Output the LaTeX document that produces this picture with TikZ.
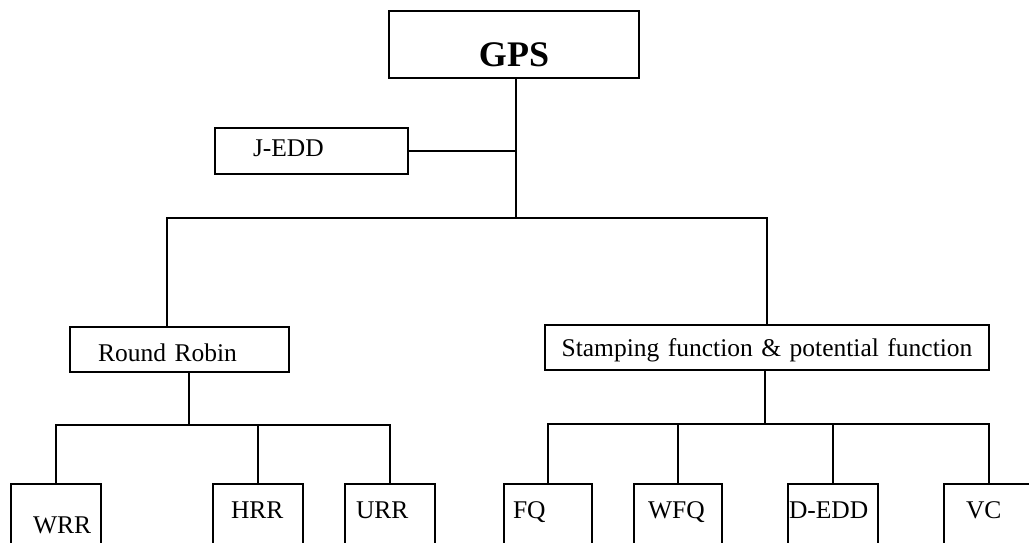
\documentclass[tikz,border=0pt]{standalone}
\usepackage{fontspec}
\setmainfont{Liberation Serif}
\begin{document}
\begin{tikzpicture}[x=1pt,y=-1pt,
  lw/.style={line width=2pt},
  box/.style={draw, lw, anchor=north west, inner ysep=0pt, align=left,
    font=\fontsize{25.5}{30}\selectfont},
  leaf/.style={box, text height=34pt, text depth=63pt},
  link/.style={lw, line cap=rect}]
\path[use as bounding box, fill=white] (0,0) rectangle (1029,542);
\clip (0,0) rectangle (1029,542);

% nodes
\node[box, align=center, inner xsep=0pt, text width=250pt, text height=55pt, text depth=12pt,
  font=\fontsize{36}{40}\selectfont\bfseries] (gps) at (388,10) {GPS};
\node[box, inner xsep=38pt, text width=117pt, text height=28.5pt, text depth=17.5pt] (jedd) at (214,127) {\mbox{J-EDD}};
\node[box, inner xsep=28pt, text width=163pt, text height=34.5pt, text depth=10.5pt] (rr) at (69,326) {\mbox{Round Robin}};
\node[box, align=center, inner xsep=0pt, text width=444pt, text height=31.5pt, text depth=13.5pt] (sf) at (544,324) {\mbox{Stamping function \& potential function}};

\node[leaf, inner xsep=22pt, text width=46pt, text height=49pt, text depth=48pt] (wrr) at (10,483) {\mbox{WRR}};
\node[leaf, inner xsep=18pt, text width=54pt] (hrr) at (212,483) {\mbox{HRR}};
\node[leaf, inner xsep=11pt, text width=68pt] (urr) at (344,483) {\mbox{URR}};
\node[leaf, inner xsep=9pt, text width=70pt] (fq) at (503,483) {\mbox{FQ}};
\node[leaf, inner xsep=14pt, text width=60pt] (wfq) at (633,483) {\mbox{WFQ}};
\node[leaf, inner xsep=1pt, text width=88pt] (dedd) at (787,483) {\mbox{D-EDD}};
\node[leaf, inner xsep=22pt, text width=46pt] (vc) at (943,483) {\mbox{VC}};

% junctions
\coordinate (t) at (516,218);
\coordinate (b1) at (167,218);
\coordinate (b2) at (767,218);
\coordinate (r0) at (189,425);
\coordinate (s0) at (765,424);

% connectors
\draw[link] (gps.south -| t) -- (t);
\draw[link] (jedd.east) -- (jedd.east -| t);
\draw[link] (b1 |- rr.north) -- (b1) -- (b2) -- (b2 |- sf.north);

\draw[link] (r0 |- rr.south) -- (r0);
\draw[link] (wrr.north) -- (wrr.north |- r0) -- (urr.north |- r0) -- (urr.north);
\draw[link] (hrr.north) -- (hrr.north |- r0);

\draw[link] (s0 |- sf.south) -- (s0);
\draw[link] (fq.north) -- (fq.north |- s0) -- (vc.north |- s0) -- (vc.north);
\draw[link] (wfq.north) -- (wfq.north |- s0);
\draw[link] (dedd.north) -- (dedd.north |- s0);
\end{tikzpicture}
\end{document}
